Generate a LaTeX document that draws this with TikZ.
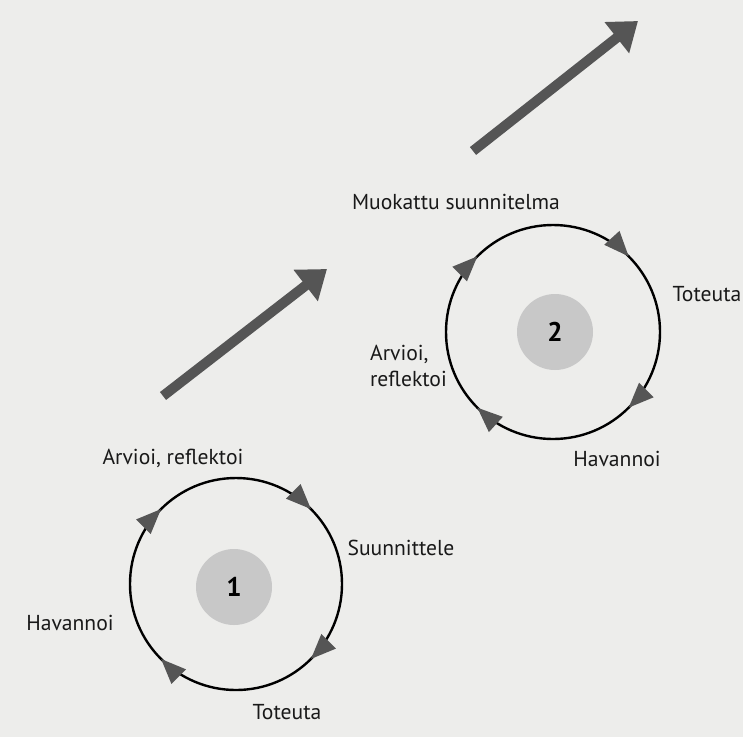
\documentclass[tikz,border=0pt]{standalone}
\usepackage{fontspec}
\setmainfont{PT Sans}
\usepackage{tikz}
\usetikzlibrary{arrows.meta,decorations.markings}
\definecolor{paper}{HTML}{EDEDEB}
\definecolor{tipgray}{HTML}{555555}
\definecolor{discgray}{HTML}{C8C8C8}

\begin{document}
\begin{tikzpicture}[
  x=1pt, y=-1pt,
  ring/.style={draw=black, line width=2.4pt,
    postaction={decorate, decoration={markings,
      mark=at position 0.125 with {\arrowreversed{Triangle[length=25pt,width=20pt,color=tipgray]}},
      mark=at position 0.375 with {\arrowreversed{Triangle[length=25pt,width=20pt,color=tipgray]}},
      mark=at position 0.625 with {\arrowreversed{Triangle[length=25pt,width=20pt,color=tipgray]}},
      mark=at position 0.875 with {\arrowreversed{Triangle[length=25pt,width=20pt,color=tipgray]}}}}},
  disc/.style={circle, fill=discgray, minimum size=76pt, inner sep=0pt, font=\fontsize{27}{30}\selectfont\bfseries},
  bigarrow/.style={draw=tipgray, line width=10pt, -{Triangle[length=27pt,width=38pt,color=tipgray]}},
  lbl/.style={font=\fontsize{21.6}{26}\selectfont, inner sep=0pt, text=black!90}
]
  \fill[paper] (0,0) rectangle (743,737);
  \useasboundingbox (0,0) rectangle (743,737);
  % cycle 1
  \node[disc] (d1) at (234,587) {1};
  \draw[ring] (236,584) circle[radius=106pt];
  \node[lbl] (r1) at (173,458) {Arvioi, reflektoi};
  \node[lbl] (s1) at (401,548) {Suunnittele};
  \node[lbl] (h1) at (70,623) {Havannoi};
  \node[lbl] (t1) at (287,712) {Toteuta};
  \coordinate (a1s) at (163,396);
  \coordinate (a1e) at (327,269);
  \draw[bigarrow] (a1s) -- (a1e);
  % cycle 2
  \node[disc] (d2) at (555,332) {2};
  \draw[ring] (553,332) circle[radius=107pt];
  \node[lbl] (m2) at (456,202) {Muokattu suunnitelma};
  \node[lbl, align=left, anchor=north east] (r2) at (447,345) {Arvioi,\\reflektoi};
  \node[lbl] (t2) at (707,294) {Toteuta};
  \node[lbl] (h2) at (617,459) {Havannoi};
  \coordinate (a2s) at (473,151);
  \coordinate (a2e) at (638,21);
  \draw[bigarrow] (a2s) -- (a2e);
\end{tikzpicture}
\end{document}
